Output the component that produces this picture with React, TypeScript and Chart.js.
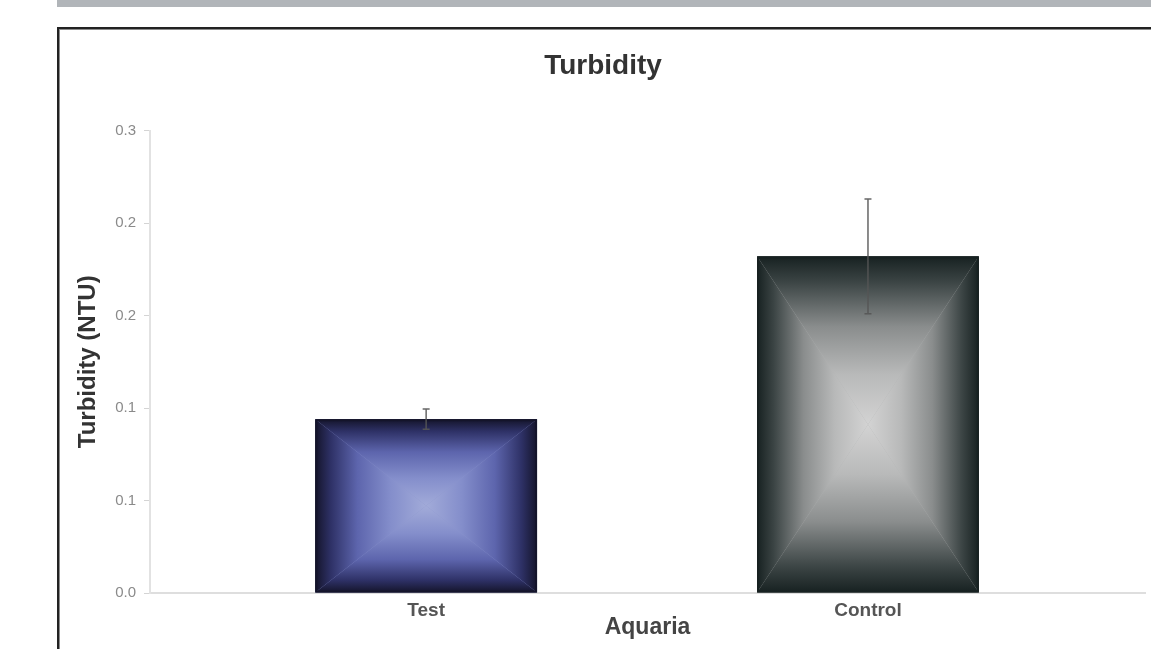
import React, { useEffect, useRef } from "react";
import { Chart, registerables } from "chart.js";

Chart.register(...registerables);

// ---- data ----
const categories = ["Test", "Control"];
const values = [0.094, 0.182];
const errors = [0.0055, 0.031];
const yTickValues = [0, 0.05, 0.1, 0.15, 0.2, 0.25];
const yTickLabels = ["0.0", "0.1", "0.1", "0.2", "0.2", "0.3"];
const chartTitle = "Turbidity";
const xTitle = "Aquaria";
const yTitle = "Turbidity (NTU)";

// ---- styling ----
const FONT = "'Liberation Sans', Arial, sans-serif";
const BAR_GRADIENTS: [number, string][][] = [
  [
    [0, "#14142a"],
    [0.14, "#2e3166"],
    [0.38, "#5d65ad"],
    [0.68, "#848ecb"],
    [1, "#a2abd9"],
  ],
  [
    [0, "#172121"],
    [0.15, "#3b4444"],
    [0.42, "#8a8d8d"],
    [0.7, "#b8b9b9"],
    [1, "#d3d3d3"],
  ],
];
const BAR_BASE = ["#8a93cc", "#b0b2b2"];

const boxGradientPlugin = {
  id: "boxGradient",
  afterDatasetsDraw(chart: any) {
    const ctx: CanvasRenderingContext2D = chart.ctx;
    const meta = chart.getDatasetMeta(0);
    const yScale = chart.scales.y;
    meta.data.forEach((el: any, i: number) => {
      const { x, y, base, width } = el.getProps(["x", "y", "base", "width"], true);
      const L = x - width / 2;
      const R = x + width / 2;
      const T = Math.min(y, base);
      const B = Math.max(y, base);
      const cx = x;
      const cy = (T + B) / 2;
      const stops = BAR_GRADIENTS[i % BAR_GRADIENTS.length];
      const tri = (pts: number[][], x0: number, y0: number, x1: number, y1: number) => {
        const g = ctx.createLinearGradient(x0, y0, x1, y1);
        stops.forEach(([o, c]) => g.addColorStop(o, c));
        ctx.beginPath();
        ctx.moveTo(pts[0][0], pts[0][1]);
        for (let k = 1; k < pts.length; k++) ctx.lineTo(pts[k][0], pts[k][1]);
        ctx.closePath();
        ctx.fillStyle = g;
        ctx.fill();
      };
      ctx.save();
      tri([[L, T], [R, T], [cx, cy]], 0, T, 0, cy);
      tri([[L, B], [R, B], [cx, cy]], 0, B, 0, cy);
      tri([[L, T], [L, B], [cx, cy]], L, 0, cx, 0);
      tri([[R, T], [R, B], [cx, cy]], R, 0, cx, 0);
      ctx.lineWidth = 2;
      ctx.strokeStyle = stops[0][1];
      ctx.strokeRect(L + 1, T + 1, width - 2, B - T - 2);

      // error bar
      const top = yScale.getPixelForValue(values[i] + errors[i]);
      const bot = yScale.getPixelForValue(values[i] - errors[i]);
      ctx.strokeStyle = "rgba(85,85,85,0.9)";
      ctx.lineWidth = 1.5;
      ctx.beginPath();
      ctx.moveTo(x, top);
      ctx.lineTo(x, bot);
      ctx.moveTo(x - 3.5, top);
      ctx.lineTo(x + 3.5, top);
      ctx.moveTo(x - 3.5, bot);
      ctx.lineTo(x + 3.5, bot);
      ctx.stroke();
      ctx.restore();
    });
  },
};

export default function App() {
  const ref = useRef<HTMLCanvasElement | null>(null);

  useEffect(() => {
    if (!ref.current) return;
    const chart = new Chart(ref.current, {
      type: "bar",
      data: {
        datasets: [
          {
            data: categories.map((_, i) => ({ x: i, y: values[i] })),
            backgroundColor: BAR_BASE,
            borderWidth: 0,
            categoryPercentage: 1,
            barPercentage: 0.502,
          },
        ],
      },
      options: {
        animation: false,
        responsive: false,
        layout: { padding: { left: 61, right: 6, top: 0, bottom: 0 } },
        plugins: {
          legend: { display: false },
          tooltip: { enabled: false },
          title: {
            display: true,
            text: chartTitle,
            color: "#333333",
            font: { family: FONT, size: 28, weight: "bold" },
            padding: { top: 49, bottom: 48 },
          },
        },
        scales: {
          x: {
            type: "linear",
            offset: false,
            min: -0.625,
            max: 1.627,
            afterBuildTicks: (s: any) => {
              s.ticks = categories.map((_, i) => ({ value: i }));
            },
            afterFit: (s: any) => {
              s.height = 56;
            },
            grid: { display: true, drawOnChartArea: false, drawTicks: false },
            border: { display: true, color: "#dedede", width: 2 },
            ticks: {
              autoSkip: false,
              maxRotation: 0,
              padding: 6,
              color: "#555555",
              font: { family: FONT, size: 19, weight: "bold" },
              callback: (v: any) => categories[v as number] ?? "",
            },
            title: {
              display: true,
              text: xTitle,
              color: "#444444",
              font: { family: FONT, size: 23, weight: "bold" },
              padding: { top: 0, bottom: 8 },
            },
          },
          y: {
            type: "linear",
            min: 0,
            max: 0.25,
            afterBuildTicks: (s: any) => {
              s.ticks = yTickValues.map((v) => ({ value: v }));
            },
            afterFit: (s: any) => {
              s.width = 89;
            },
            grid: {
              drawOnChartArea: false,
              drawTicks: true,
              tickLength: 6,
              color: "#d4d4d4",
              lineWidth: 1,
            },
            border: { display: true, color: "#e2e2e2", width: 2 },
            ticks: {
              padding: 8,
              color: "#8a8a8a",
              font: { family: FONT, size: 15 },
              callback: (_v: any, idx: number) => yTickLabels[idx],
            },
            title: {
              display: true,
              text: yTitle,
              color: "#333333",
              font: { family: FONT, size: 24, weight: "bold" },
              padding: { top: 13, bottom: 0 },
            },
          },
        },
      } as any,
      plugins: [boxGradientPlugin],
    });
    return () => chart.destroy();
  }, []);

  return (
    <div
      style={{
        position: "fixed",
        left: 0,
        top: 0,
        width: 1151,
        height: 649,
        background: "#ffffff",
        overflow: "hidden",
      }}
    >
      <div
        style={{
          position: "absolute",
          left: 57,
          top: 0,
          width: 1094,
          height: 7,
          background: "#b1b5b9",
        }}
      />
      <div
        style={{
          position: "absolute",
          left: 57,
          top: 27,
          width: 1130,
          height: 660,
          border: "2px solid #222222",
          boxShadow: "inset 1px 1px 0 0 #8a8a8a",
          boxSizing: "border-box",
        }}
      />
      <canvas
        ref={ref}
        width={1151}
        height={649}
        style={{ position: "absolute", left: 0, top: 0, width: 1151, height: 649 }}
      />
    </div>
  );
}
